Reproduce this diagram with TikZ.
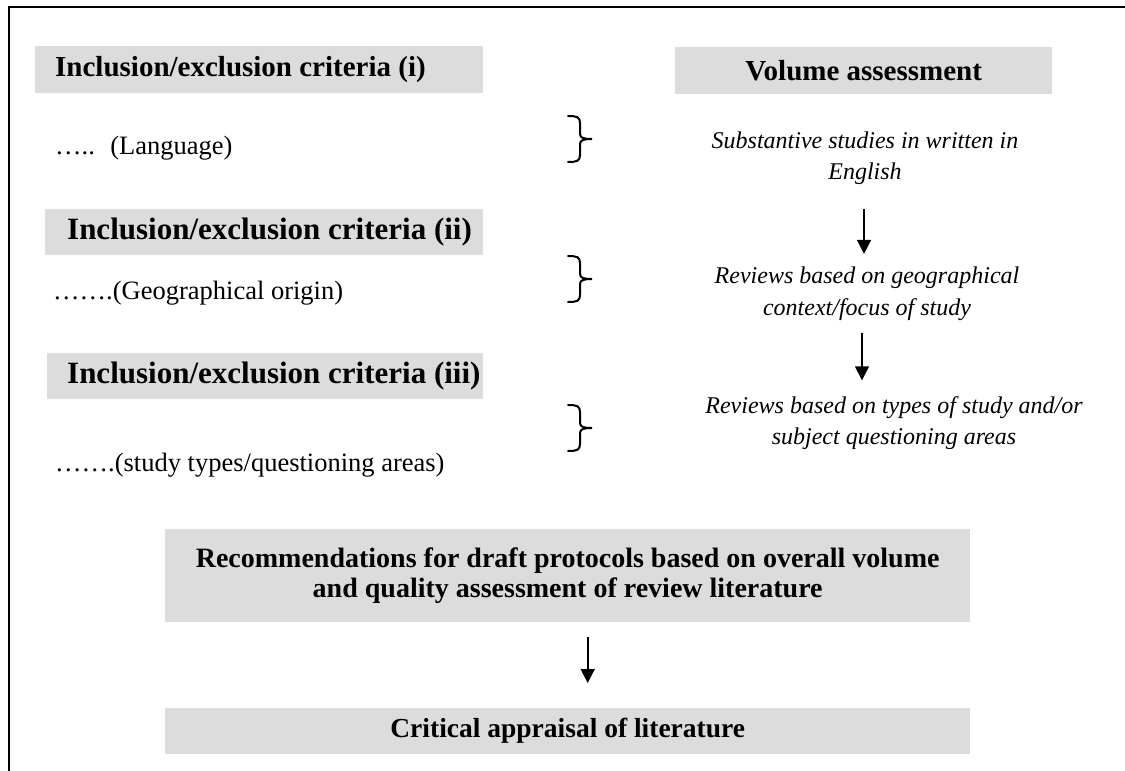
\documentclass[tikz,border=0pt]{standalone}
\usepackage{fontspec}
\setmainfont{Liberation Serif}
\usetikzlibrary{arrows.meta}
\definecolor{boxgray}{RGB}{220,220,220}
\newcommand{\curlybr}[1]{%
  \draw[brc] (568,{#1-23}) .. controls (577,{#1-23}) and (580,{#1-22}) .. (580,{#1-16})
    -- (580,{#1-5}) .. controls (580,{#1-1}) and (584,#1) .. (592,#1)
    .. controls (584,#1) and (580,{#1+1}) .. (580,{#1+5})
    -- (580,{#1+16}) .. controls (580,{#1+22}) and (577,{#1+23}) .. (568,{#1+23});}
\begin{document}
\begin{tikzpicture}[x=1pt,y=-1pt,
  gbox/.style={fill=boxgray,inner ysep=0pt,anchor=north west},
  head/.style={font=\fontsize{29}{34}\selectfont\bfseries},
  headb/.style={font=\fontsize{31}{36}\selectfont\bfseries},
  plain/.style={font=\fontsize{26.5}{31}\selectfont,anchor=west,inner sep=0pt},
  itext/.style={font=\fontsize{24}{31}\selectfont\itshape,align=center,inner sep=0pt},
  arr/.style={line width=1.6pt,-{Triangle[length=14pt,width=14pt]}},
  brc/.style={line width=2pt,line cap=round}]
\useasboundingbox (0,0) rectangle (1125,771);
\draw[line width=2.2pt] (9,773) -- (9,7) -- (1127,7);

% left headings
\node[gbox,head,minimum width=448,minimum height=47,inner xsep=20pt] (c1) at (35,46)
  {\makebox[408pt][l]{Inclusion/exclusion criteria (i)}};
\node[gbox,headb,minimum width=438,minimum height=46,inner xsep=22pt] (c2) at (45,209)
  {\makebox[394pt][l]{Inclusion/exclusion criteria (ii)}};
\node[gbox,headb,minimum width=436,minimum height=46,inner xsep=20pt] (c3) at (47,353)
  {\makebox[396pt][l]{Inclusion/exclusion criteria (iii)}};

% right heading
\node[gbox,head,minimum width=377,minimum height=47,inner xsep=0pt] (va) at (675,47) {Volume assessment};

% left plain texts
\node[plain] (l1) at (55,148) {…..~ (Language)};
\node[plain] (l2) at (53,293) {…….(Geographical origin)};
\node[plain] (l3) at (55,465) {…….(study types/questioning areas)};

% right italic texts
\node[itext] (r1) at (865,158) {Substantive studies in written in\\English};
\node[itext,font=\fontsize{24}{32}\selectfont\itshape] (r2) at (867,294) {Reviews based on geographical\\context/focus of study};
\node[itext] (r3) at (894,423) {Reviews based on types of study and/or\\subject questioning areas};

% braces
\curlybr{139}
\curlybr{279}
\curlybr{428}

% arrows right column
\draw[arr,shorten <=24pt,shorten >=13pt] ([xshift=-1pt]r1.south) -- ([xshift=-1pt]r1.south |- r2.north);
\draw[arr,shorten <=12pt,shorten >=16pt] ([xshift=-5pt]r2.south) -- ([xshift=-5pt]r2.south |- r3.north);

% bottom boxes
\node[gbox,minimum width=805,minimum height=93,inner xsep=0pt,align=center,
  font=\fontsize{28}{30}\selectfont\bfseries] (rec) at (165,529)
  {Recommendations for draft protocols based on overall volume\\and quality assessment of review literature};
\node[gbox,minimum width=805,minimum height=46,inner xsep=0pt,
  font=\fontsize{27.5}{32}\selectfont\bfseries] (crit) at (165,708) {Critical appraisal of literature};

\draw[arr,shorten <=15pt,shorten >=25pt] ([xshift=20pt]rec.south) -- ([xshift=20pt]crit.north);
\end{tikzpicture}
\end{document}
